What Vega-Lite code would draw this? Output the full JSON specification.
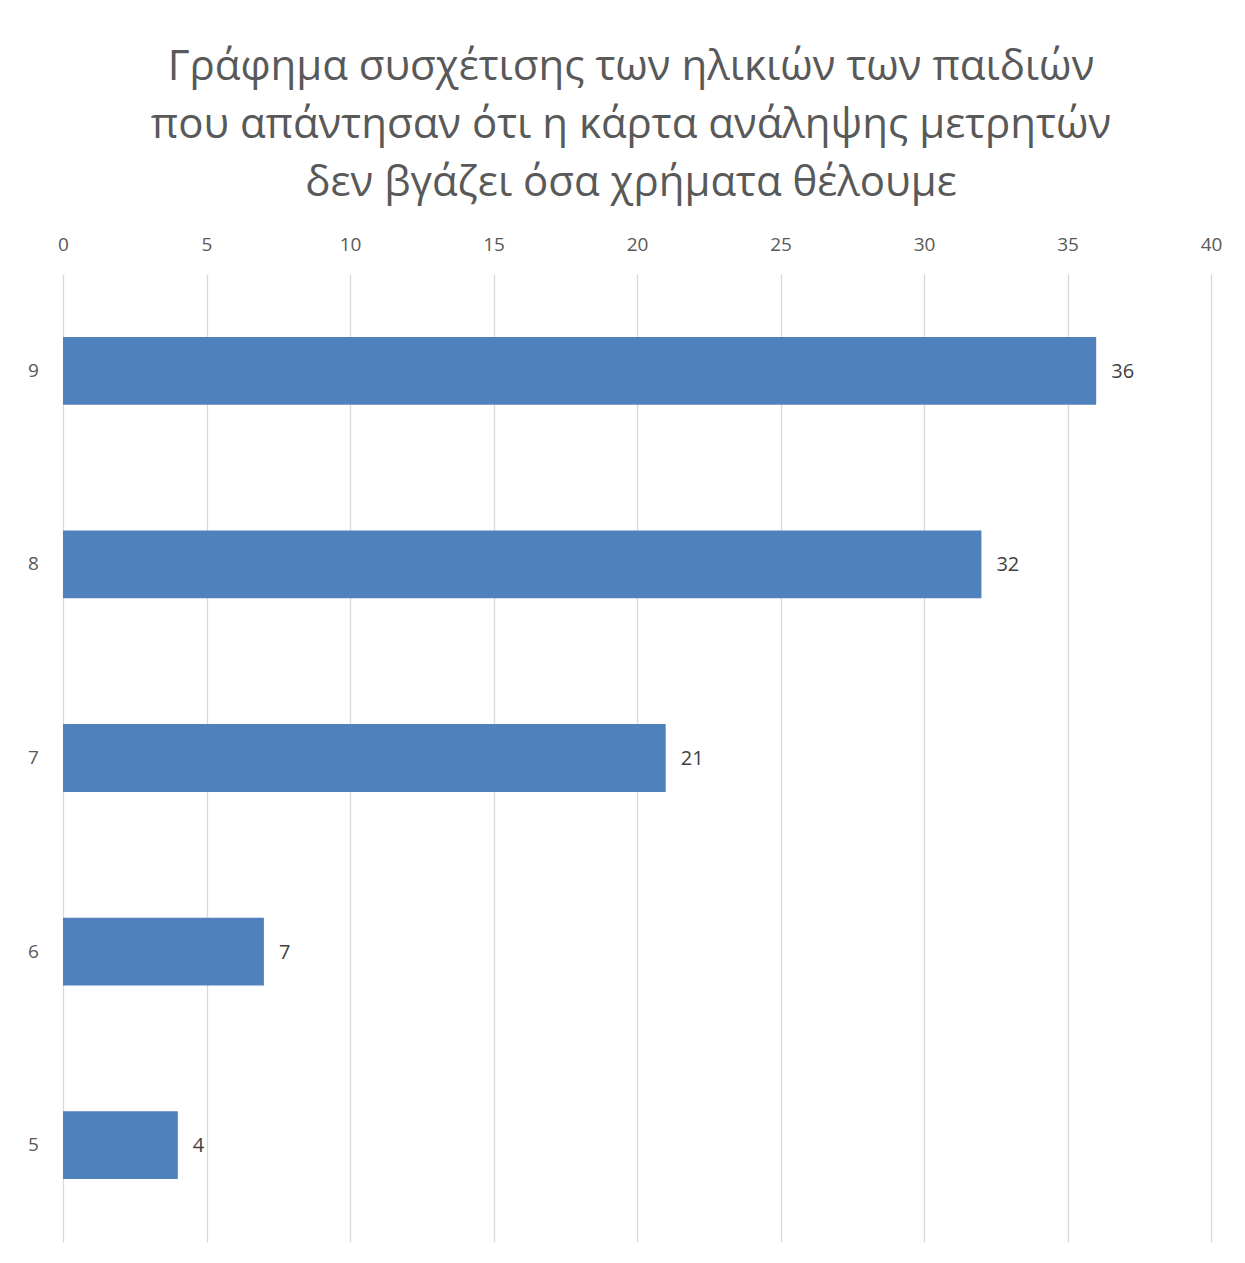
{
  "$schema": "https://vega.github.io/schema/vega-lite/v6.json",
  "width": 1148,
  "height": 968,
  "autosize": "none",
  "padding": {"left": 63, "top": 274, "right": 34, "bottom": 21},
  "background": "white",
  "title": {
    "text": ["Γράφημα συσχέτισης των ηλικιών των παιδιών", "που απάντησαν ότι η κάρτα ανάληψης μετρητών", "δεν βγάζει όσα χρήματα θέλουμε"],
    "font": "Open Sans",
    "fontSize": 42,
    "fontWeight": "normal",
    "color": "#595959",
    "lineHeight": 58,
    "anchor": "middle",
    "dx": -6,
    "offset": 30
  },
  "config": {
    "view": {"stroke": null},
    "font": "Open Sans"
  },
  "data": {
    "values": [
      {"age": "9", "count": 36},
      {"age": "8", "count": 32},
      {"age": "7", "count": 21},
      {"age": "6", "count": 7},
      {"age": "5", "count": 4}
    ]
  },
  "encoding": {
    "y": {
      "field": "age",
      "type": "nominal",
      "sort": ["9", "8", "7", "6", "5"],
      "scale": {"paddingInner": 0.65, "paddingOuter": 0.325},
      "axis": {
        "title": null,
        "domain": false,
        "ticks": false,
        "labelFont": "Open Sans",
        "labelFontSize": 19,
        "labelColor": "#595959",
        "labelPadding": 30,
        "labelAlign": "center"
      }
    },
    "x": {
      "field": "count",
      "type": "quantitative",
      "scale": {"domain": [0, 40]},
      "axis": {
        "orient": "top",
        "title": null,
        "values": [0, 5, 10, 15, 20, 25, 30, 35, 40],
        "domain": false,
        "ticks": false,
        "grid": true,
        "gridColor": "#d9d9d9",
        "gridWidth": 1.3,
        "labelFlush": false,
        "labelFont": "Open Sans",
        "labelFontSize": 19,
        "labelColor": "#595959",
        "labelPadding": 20
      }
    }
  },
  "layer": [
    {"mark": {"type": "bar", "color": "#4F81BD"}},
    {
      "mark": {"type": "text", "align": "left", "dx": 15, "dy": 1, "fontSize": 20, "color": "#404040", "font": "Open Sans"},
      "encoding": {"text": {"field": "count", "type": "quantitative"}}
    }
  ]
}
